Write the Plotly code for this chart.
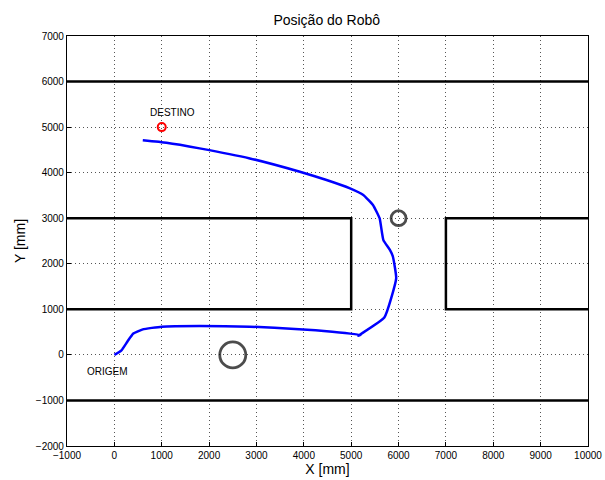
import plotly.graph_objects as go

# walls (black lines)
wall_top_x = [-1000, 10000]
wall_top_y = [6000, 6000]
wall_bottom_x = [-1000, 10000]
wall_bottom_y = [-1000, -1000]
block_left_x = [-1000, 5000, 5000, -1000]
block_left_y = [3000, 3000, 1000, 1000]
block_right_x = [10000, 7000, 7000, 10000]
block_right_y = [3000, 3000, 1000, 1000]

# obstacles (circles)
obst_x = [6000, 2500]
obst_y = [3000, 0]
obst_size = [15, 26]

# goal
goal_x = [1000]
goal_y = [5000]

# robot path
path_x = [0, 150, 280, 400, 600, 1000, 1800, 2860, 3900, 4600, 5200, 5150,
          5700, 5950, 5880, 5820, 5680, 5600, 5460, 5256, 4975, 4480, 3917,
          2860, 1800, 1100, 600]
path_y = [0, 100, 300, 470, 560, 620, 635, 620, 565, 510, 440, 420,
          820, 1680, 2160, 2300, 2520, 3000, 3290, 3510, 3655, 3840, 4020,
          4313, 4533, 4656, 4710]

fig = go.Figure()

for xs, ys in [(wall_top_x, wall_top_y), (wall_bottom_x, wall_bottom_y),
               (block_left_x, block_left_y), (block_right_x, block_right_y)]:
    fig.add_trace(go.Scatter(x=xs, y=ys, mode="lines",
                             line=dict(color="black", width=2.5)))

fig.add_trace(go.Scatter(x=path_x, y=path_y, mode="lines",
                         line=dict(color="#0000ff", width=2.5, shape="spline",
                                   smoothing=0.4)))

fig.add_trace(go.Scatter(x=obst_x, y=obst_y, mode="markers",
                         marker=dict(symbol="circle-open", size=obst_size,
                                     color="black",
                                     line=dict(width=2.8, color="black"))))

fig.add_trace(go.Scatter(x=goal_x, y=goal_y, mode="markers",
                         marker=dict(symbol="circle-open", size=8,
                                     color="red",
                                     line=dict(width=2, color="red"))))

fig.add_annotation(x=1220, y=5330, text="DESTINO", showarrow=False,
                   font=dict(size=10, color="black"))
fig.add_annotation(x=-140, y=-370, text="ORIGEM", showarrow=False,
                   font=dict(size=10, color="black"))

axis_common = dict(showgrid=True, gridcolor="#555555", griddash="1px,3px",
                   gridwidth=1, zeroline=False, showline=True, mirror=True,
                   linecolor="black", linewidth=1.2, ticks="inside",
                   ticklen=4, tickcolor="black", automargin=False,
                   tickformat="d", ticklabeloverflow="allow",
                   tickfont=dict(size=10, color="black"))

fig.update_layout(
    width=605, height=480,
    title=dict(text="Posição do Robô", x=0.54, y=0.958, xanchor="center",
               yanchor="middle", font=dict(size=14, color="black")),
    font=dict(family="Liberation Sans, Arial, sans-serif", color="black"),
    showlegend=False,
    plot_bgcolor="white", paper_bgcolor="white",
    margin=dict(l=67, r=17, t=36, b=34),
    xaxis=dict(range=[-1000, 10000], dtick=1000, tick0=-1000,
               title=dict(text="X [mm]", standoff=2, font=dict(size=14)),
               **axis_common),
    yaxis=dict(range=[-2000, 7000], dtick=1000, tick0=-2000,
               title=dict(text="Y [mm]", standoff=6, font=dict(size=14)),
               **axis_common),
)

# drop the default page margin so the figure fills the window exactly
fig.write_html("out.html",
               config={"displayModeBar": False},
               post_script="document.body.style.margin='0';"
                           "document.body.style.overflow='hidden';")
